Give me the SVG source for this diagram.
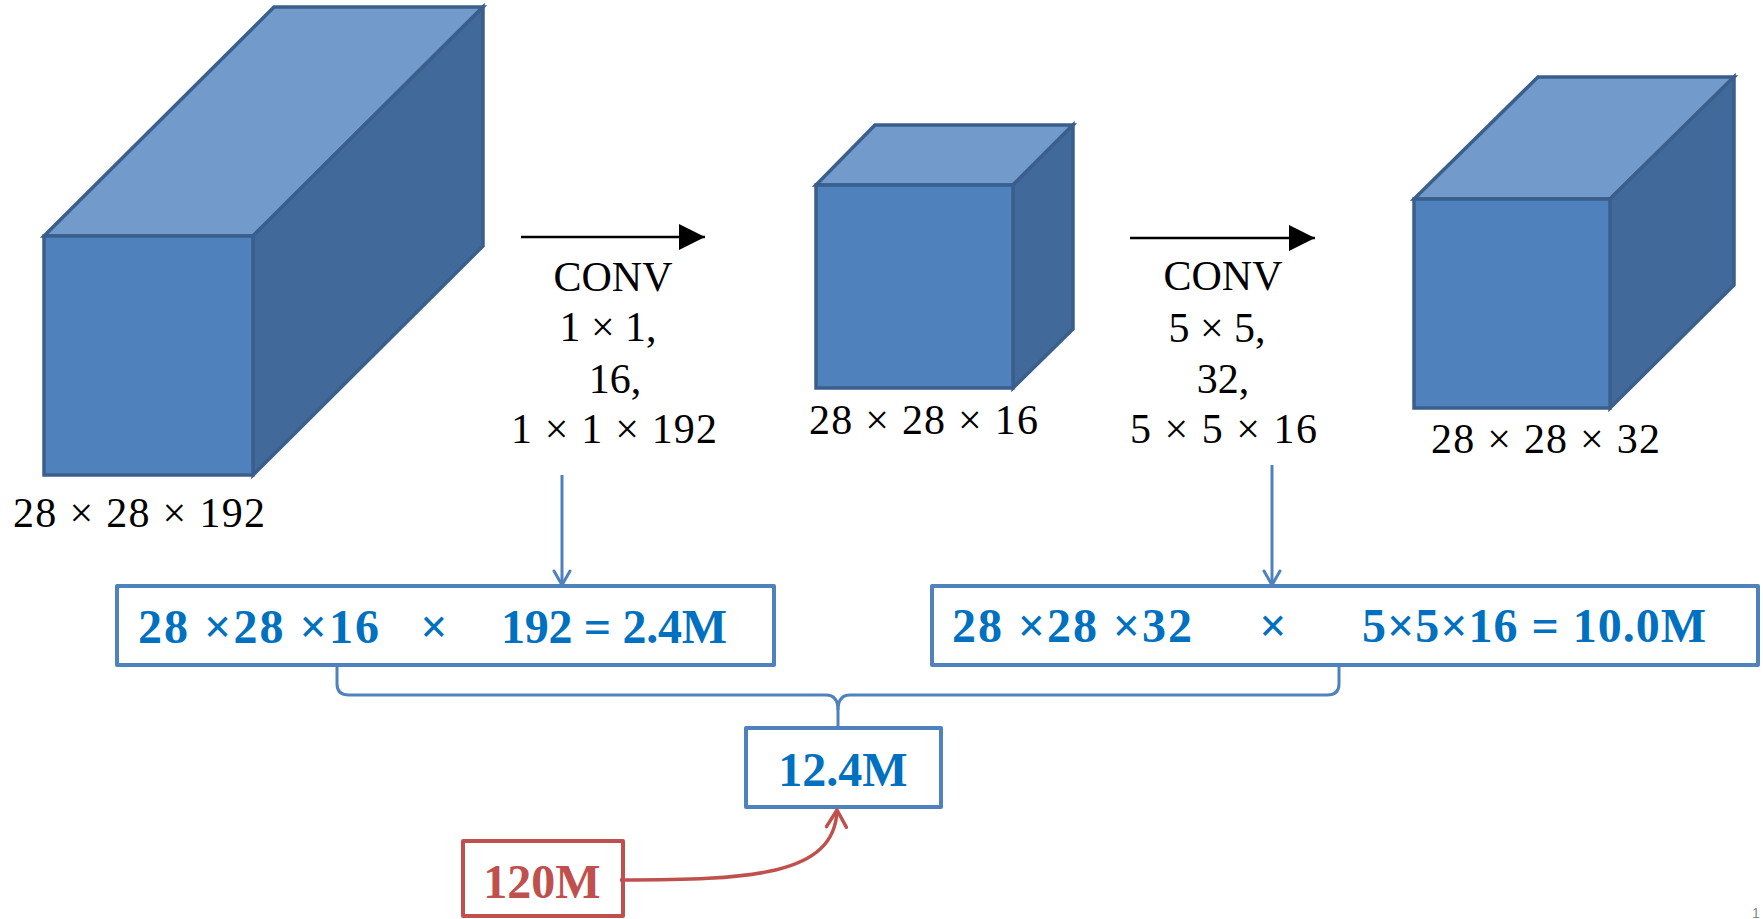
<svg xmlns="http://www.w3.org/2000/svg" width="1763" height="919" viewBox="0 0 1763 919">
<style>
.edge{stroke:#3a5f8d;stroke-width:3.5;stroke-linejoin:miter}
.front{fill:#4f81bd}
.top{fill:#729bcc}
.side{fill:#41699a}
.lbl{font-family:"Liberation Serif","Times New Roman",serif;font-size:42px;fill:#000}
.bx{fill:#fff;stroke:#4f81bd;stroke-width:4;stroke-linejoin:round}
.bt{font-family:"Liberation Serif","Times New Roman",serif;font-size:48px;font-weight:bold;fill:#0070c0}
.rbx{fill:#fff;stroke:#c0504d;stroke-width:4;stroke-linejoin:round}
.rt{font-family:"Liberation Serif","Times New Roman",serif;font-size:48px;font-weight:bold;fill:#c0504d}
.conn{fill:none;stroke:#4f81bd;stroke-width:3}
</style>
<defs>
<marker id="blk" markerWidth="26" markerHeight="26" refX="26" refY="13" orient="auto" markerUnits="userSpaceOnUse" viewBox="0 0 26 26">
<path d="M0,0 L26,13 L0,26 Z" fill="#000"/>
</marker>
<marker id="bv" markerWidth="20" markerHeight="20" refX="17" refY="10" orient="auto" markerUnits="userSpaceOnUse" viewBox="0 0 20 20">
<path d="M3,2 L17,10 L3,18" fill="none" stroke="#4f81bd" stroke-width="3" stroke-linecap="round" stroke-linejoin="round"/>
</marker>
<marker id="rv" markerWidth="24" markerHeight="24" refX="20" refY="12" orient="auto" markerUnits="userSpaceOnUse" viewBox="0 0 24 24">
<path d="M3,2 L20,12 L3,22" fill="none" stroke="#c0504d" stroke-width="3.5" stroke-linecap="round" stroke-linejoin="round"/>
</marker>
</defs>

<g id="cube-input">
<polygon class="top edge" points="44,236 274,7 483,7 253,236"/>
<polygon class="side edge" points="253,236 483,7 483,246 253,475"/>
<rect class="front edge" x="44" y="236" width="209" height="239"/>
<text class="lbl" x="13" y="527" textLength="252" lengthAdjust="spacing">28 × 28 × 192</text>
</g>

<g id="cube-mid">
<polygon class="top edge" points="816,185 875,125 1073,125 1013,185"/>
<polygon class="side edge" points="1013,185 1073,125 1073,329 1013,388"/>
<rect class="front edge" x="816" y="185" width="197" height="203"/>
<text class="lbl" x="809" y="434" textLength="229" lengthAdjust="spacing">28 × 28 × 16</text>
</g>

<g id="cube-out">
<polygon class="top edge" points="1414,199 1538,77 1734,77 1610,199"/>
<polygon class="side edge" points="1610,199 1734,77 1734,285 1610,408"/>
<rect class="front edge" x="1414" y="199" width="196" height="209"/>
<text class="lbl" x="1431" y="453" textLength="229" lengthAdjust="spacing">28 × 28 × 32</text>
</g>

<g id="conv1">
<text class="lbl" x="613" y="291" text-anchor="middle">CONV</text>
<text class="lbl" x="608" y="341" text-anchor="middle">1 × 1,</text>
<text class="lbl" x="615" y="393" text-anchor="middle">16,</text>
<text class="lbl" x="511" y="443" textLength="206" lengthAdjust="spacing">1 × 1 × 192</text>
</g>

<g id="conv2">
<text class="lbl" x="1223" y="290" text-anchor="middle">CONV</text>
<text class="lbl" x="1217" y="342" text-anchor="middle">5 × 5,</text>
<text class="lbl" x="1223" y="393" text-anchor="middle">32,</text>
<text class="lbl" x="1130" y="443" textLength="187" lengthAdjust="spacing">5 × 5 × 16</text>
</g>

<g id="calc1">
<rect class="bx" x="117" y="586" width="657" height="79"/>
<text class="bt" x="138" y="643" textLength="241" lengthAdjust="spacing">28 ×28 ×16</text>
<text class="bt" x="434" y="643" text-anchor="middle" font-weight="normal">×</text>
<text class="bt" x="501" y="643" textLength="226" lengthAdjust="spacing">192 = 2.4M</text>
</g>

<g id="calc2">
<rect class="bx" x="932" y="586" width="826" height="79"/>
<text class="bt" x="952" y="642" textLength="240" lengthAdjust="spacing">28 ×28 ×32</text>
<text class="bt" x="1273" y="642" text-anchor="middle" font-weight="normal">×</text>
<text class="bt" x="1362" y="642" textLength="344" lengthAdjust="spacing">5×5×16 = 10.0M</text>
</g>

<g id="total">
<rect class="bx" x="746" y="728" width="195" height="79"/>
<text class="bt" x="843" y="786" text-anchor="middle">12.4M</text>
</g>

<g id="naive">
<rect class="rbx" x="463" y="841" width="160" height="75"/>
<text class="rt" x="542" y="898" text-anchor="middle">120M</text>
</g>

<g id="connectors">
<line x1="521" y1="237" x2="705" y2="237" stroke="#000" stroke-width="2.5" marker-end="url(#blk)"/>
<line x1="1130" y1="238" x2="1315" y2="238" stroke="#000" stroke-width="2.5" marker-end="url(#blk)"/>
<line class="conn" x1="562" y1="475" x2="562" y2="585" marker-end="url(#bv)"/>
<line class="conn" x1="1272" y1="465" x2="1272" y2="585" marker-end="url(#bv)"/>
<path class="conn" d="M337,665 L337,684 Q337,695 349,695 L826,695 Q838,695 838,710 L838,728"/>
<path class="conn" d="M1339,665 L1339,684 Q1339,695 1327,695 L850,695 Q838,695 838,710"/>
<path d="M620,880 C750,880 835,876 837,810" fill="none" stroke="#c0504d" stroke-width="3.5" marker-end="url(#rv)"/>
</g>

<text x="1752" y="918" font-family="Liberation Sans, Arial, sans-serif" font-size="14" fill="#888">1</text>
</svg>
